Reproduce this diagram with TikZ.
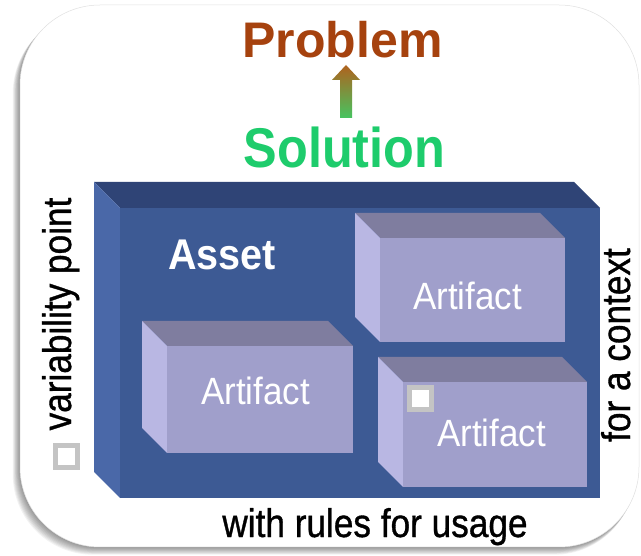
\documentclass[tikz,border=0pt]{standalone}
\usepackage{fontspec}
\setmainfont{Liberation Sans}
\newfontfamily\lblfont[FakeBold=0.9]{Liberation Sans}
\usepackage{graphicx}
\definecolor{assetfront}{RGB}{61,90,148}
\definecolor{assettop}{RGB}{47,68,118}
\definecolor{assetleft}{RGB}{74,104,168}
\definecolor{artfront}{RGB}{160,159,203}
\definecolor{arttop}{RGB}{127,125,159}
\definecolor{artleft}{RGB}{185,183,227}
\definecolor{problemc}{RGB}{166,66,14}
\definecolor{solutionc}{RGB}{30,204,108}
\definecolor{arrowtop}{RGB}{176,98,30}
\definecolor{arrowbot}{RGB}{70,196,96}
\definecolor{sqgray}{RGB}{196,196,196}
\newcommand\mybox[8]{%
  \fill[#7] ({#1-#5},{#2-#5}) -- ({#3-#5},{#2-#5}) -- (#3,#2) -- (#1,#2) -- cycle;
  \fill[#8] ({#1-#5},{#2-#5}) -- (#1,#2) -- (#1,#4) -- ({#1-#5},{#4-#5}) -- cycle;
  \fill[#6] (#1,#2) rectangle (#3,#4);
}
\newcommand\narrowtxt[1]{\scalebox{0.88}[1]{#1}}
\begin{document}
\begin{tikzpicture}[x=1pt,y=-1pt,
  lbl/.style={font=\lblfont\fontsize{40}{44}\selectfont, text=black, inner sep=0pt, anchor=base},
  arttxt/.style={font=\fontsize{38}{42}\selectfont, text=white, inner sep=0pt, anchor=base west},
  sqbox/.style={draw=sqgray, fill=white, line width=5pt, minimum size=22pt, inner sep=0pt},
  card/.style={rounded corners=80pt}
]
\useasboundingbox (0,0) rectangle (641,556);
\fill[white] (0,0) rectangle (641,556);
% card shadow
\foreach \i in {1,...,9} {
  \fill[black, opacity=0.05, card] ({20-\i*0.8},{5+\i*0.9}) rectangle ({639-\i*0.5},{547+\i*0.85});
}
\fill[white, card] (20,5) rectangle (639,547);
\draw[black!12, line width=0.5pt, card] (20,5) rectangle (639,547);

% asset box
\mybox{120}{208}{600}{498}{26}{assetfront}{assettop}{assetleft}
% artifacts
\mybox{380}{238}{565}{342}{25}{artfront}{arttop}{artleft}
\mybox{167}{346}{353}{453}{25}{artfront}{arttop}{artleft}
\mybox{403}{382}{587}{487}{25}{artfront}{arttop}{artleft}

% texts
\node[anchor=base, inner sep=0pt, text=problemc, font=\bfseries\fontsize{50}{52}\selectfont] (problem) at (342.5,58) {\scalebox{1.0}[1]{Problem}};
\node[anchor=base, inner sep=0pt, text=solutionc, font=\bfseries\fontsize{56}{58}\selectfont] (solution) at (344.5,168) {\scalebox{0.9}[1]{Solution}};
\shade[top color=arrowtop, bottom color=arrowbot]
  (340,118) -- (340,80) -- (332,80) -- (346,65) -- (360,80) -- (352,80) -- (352,118) -- cycle;

\node[anchor=base west, inner sep=0pt, text=white, font=\bfseries\fontsize{43}{46}\selectfont] (asset) at (168,270) {\scalebox{0.92}[1]{Asset}};
\node[arttxt] (art1) at (413,310) {\scalebox{0.92}[1]{Artifact}};
\node[arttxt] (art2) at (201,405) {\scalebox{0.92}[1]{Artifact}};
\node[arttxt] (art3) at (437,447) {\scalebox{0.92}[1]{Artifact}};
\node[sqbox] (art3sq) at (420.5,399) {};

\node[lbl, rotate=90] (vp) at (71,314) {\narrowtxt{variability point}};
\node[sqbox] (vpsq) at (66.5,456.5) {};
\node[lbl, rotate=90] (ctx) at (630,345) {\narrowtxt{for a context}};
\node[lbl] (rules) at (375,537) {\narrowtxt{with rules for usage}};
\end{tikzpicture}
\end{document}
